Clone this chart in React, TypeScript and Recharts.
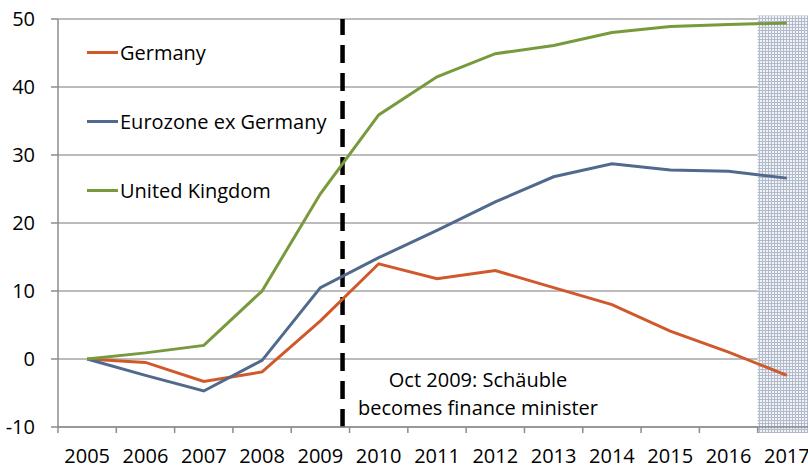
import React from "react";
import {
  LineChart,
  Line,
  XAxis,
  YAxis,
  CartesianGrid,
  ReferenceLine,
  ReferenceArea,
  Legend,
} from "recharts";

const years = [2005, 2006, 2007, 2008, 2009, 2010, 2011, 2012, 2013, 2014, 2015, 2016, 2017];
const germany = [0, -0.5, -3.3, -1.9, 5.6, 14.0, 11.8, 13.0, 10.5, 8.0, 4.1, 1.0, -2.4];
const eurozone = [0, -2.4, -4.7, -0.2, 10.5, 14.9, 18.9, 23.1, 26.8, 28.7, 27.8, 27.6, 26.6];
const uk = [0, 0.9, 2.0, 10.0, 24.3, 35.9, 41.5, 44.9, 46.1, 48.0, 48.9, 49.2, 49.4];
const seriesNames = ["Germany", "Eurozone ex Germany", "United Kingdom"];
const yTicks = [-10, 0, 10, 20, 30, 40, 50];
const schaeubleDate = 2009.38;
const forecastStart = 2016.5;
const forecastEnd = 2017.5;
const annotationLines = ["Oct 2009: Schäuble", "becomes finance minister"];

const FONT = "'Open Sans', sans-serif";
const COLORS = { germany: "#D0592B", eurozone: "#50698D", uk: "#789A3C" };

const data = years.map((y, i) => ({
  year: y,
  germany: germany[i],
  eurozone: eurozone[i],
  uk: uk[i],
}));

// tick values: integer years carry labels, half-years carry tick marks
const xTicks: number[] = [];
for (let i = 0; i < years.length; i++) {
  xTicks.push(years[i] - 0.5);
  xTicks.push(years[i]);
}
xTicks.push(years[years.length - 1] + 0.5);

const XTick = (props: any) => {
  const { x, y, payload } = props;
  const v = payload.value as number;
  if (Number.isInteger(v)) {
    return (
      <text x={x} y={y + 36} textAnchor="middle" fontFamily={FONT} fontSize={20} fill="#000">
        {v}
      </text>
    );
  }
  return <line x1={x} x2={x} y1={y} y2={y + 6} stroke="#8C8C8C" strokeWidth={1.5} />;
};

const LegendContent = (props: any) => {
  const payload = [...(props.payload || [])].sort(
    (a: any, b: any) => seriesNames.indexOf(a.value) - seriesNames.indexOf(b.value)
  );
  return (
    <div style={{ fontFamily: FONT, fontSize: 20, color: "#000" }}>
      {payload.map((p: any) => (
        <div key={p.value} style={{ display: "flex", alignItems: "center", height: 69 }}>
          <div style={{ width: 31, height: 3, background: p.color, marginRight: 2 }} />
          <span style={{ lineHeight: "20px" }}>{p.value}</span>
        </div>
      ))}
    </div>
  );
};

export default function App() {
  return (
    <div
      style={{
        position: "absolute",
        left: 0,
        top: 0,
        width: 808,
        height: 468,
        overflow: "hidden",
        background: "#fff",
      }}
    >
      <svg width={0} height={0} style={{ position: "absolute" }}>
        <defs>
          <pattern id="hatch" width={3} height={3} patternUnits="userSpaceOnUse">
            <rect x={0} y={0} width={3} height={3} fill="#F0F2F6" />
            <rect x={0} y={0} width={1} height={3} fill="#B2BBCC" />
            <rect x={0} y={0} width={3} height={1} fill="#B2BBCC" />
          </pattern>
        </defs>
      </svg>
      <LineChart
        width={830}
        height={468}
        data={data}
        margin={{ top: 19, right: 14, bottom: 0, left: 0 }}
      >
        <CartesianGrid horizontal vertical={false} stroke="#A6A6A6" strokeWidth={1.5} />
        <ReferenceArea
          x1={forecastStart}
          x2={forecastEnd}
          y1={-10.9}
          y2={50.5}
          fill="url(#hatch)"
          fillOpacity={1}
          stroke="none"
          ifOverflow="visible"
        />
        <XAxis
          dataKey="year"
          type="number"
          domain={[years[0] - 0.5, years[years.length - 1] + 0.5]}
          ticks={xTicks}
          interval={0}
          tickLine={false}
          tickSize={0}
          tickMargin={0}
          tick={<XTick />}
          height={41}
          axisLine={{ stroke: "#8C8C8C", strokeWidth: 1.5 }}
          allowDataOverflow
        />
        <YAxis
          domain={[-10, 50]}
          ticks={yTicks}
          interval={0}
          width={58}
          tickSize={7}
          tickMargin={16}
          tickLine={{ stroke: "#8C8C8C", strokeWidth: 1.5 }}
          axisLine={{ stroke: "#8C8C8C", strokeWidth: 1.5 }}
          tick={{ fontFamily: FONT, fontSize: 20, fill: "#000" }}
        />
        <ReferenceLine
          x={schaeubleDate}
          stroke="#000"
          strokeWidth={4.5}
          strokeDasharray="18 10"
          ifOverflow="visible"
        />
        <Line type="linear" dataKey="germany" name="Germany" stroke={COLORS.germany} strokeWidth={3} dot={false} isAnimationActive={false} />
        <Line type="linear" dataKey="eurozone" name="Eurozone ex Germany" stroke={COLORS.eurozone} strokeWidth={3} dot={false} isAnimationActive={false} />
        <Line type="linear" dataKey="uk" name="United Kingdom" stroke={COLORS.uk} strokeWidth={3} dot={false} isAnimationActive={false} />
        <Legend
          layout="vertical"
          align="center"
          verticalAlign="middle"
          content={<LegendContent />}
          wrapperStyle={{ position: "absolute", left: 87, top: 18, width: 260, height: 210 }}
        />
      </LineChart>
      <div
        style={{
          position: "absolute",
          left: 338,
          width: 280,
          top: 366,
          textAlign: "center",
          fontFamily: FONT,
          fontSize: 20,
          lineHeight: "27.5px",
          color: "#000",
        }}
      >
        {annotationLines.map((l) => (
          <div key={l}>{l}</div>
        ))}
      </div>
    </div>
  );
}
